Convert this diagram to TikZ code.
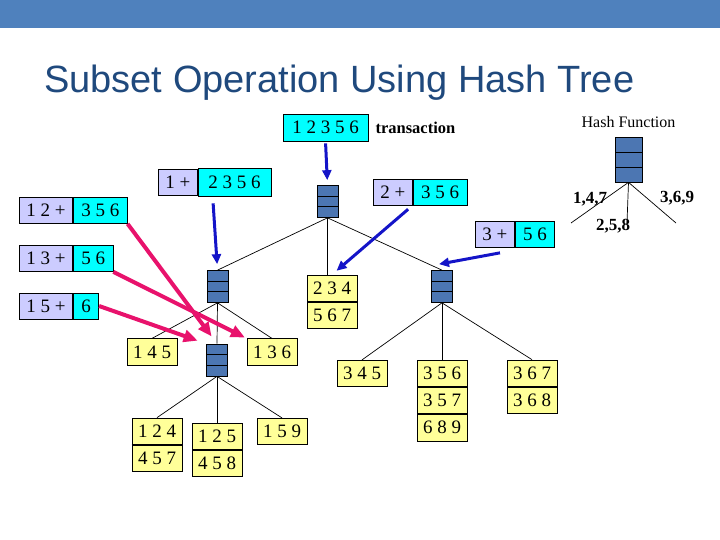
\documentclass[tikz,border=0pt]{standalone}
\usepackage{fontspec}
\setmainfont{Liberation Serif}
\newfontfamily\titlefont{Liberation Sans}
\usetikzlibrary{arrows.meta}
\usetikzlibrary{positioning}
\usetikzlibrary{calc}
\definecolor{banner}{RGB}{79,129,189}
\definecolor{titleblue}{RGB}{31,73,125}
\definecolor{hashblue}{RGB}{76,118,178}
\definecolor{lavender}{RGB}{204,204,255}
\definecolor{cyanbox}{RGB}{0,255,255}
\definecolor{leafyellow}{RGB}{255,255,153}
\definecolor{pinkarrow}{RGB}{232,18,108}
\definecolor{bluearrow}{RGB}{20,20,200}
\newcommand{\numfont}{\fontsize{19}{21}\selectfont}
\tikzstyle{headcell} = [rectangle, draw=black, line width=0.7pt, fill=lavender, minimum height=26pt, inner xsep=7pt, inner ysep=0pt, font=\numfont]
\tikzstyle{tailcell} = [rectangle, draw=black, line width=0.7pt, fill=cyanbox, minimum height=26pt, inner xsep=8pt, inner ysep=0pt, font=\numfont]
\tikzstyle{leaf} = [rectangle, draw=black, line width=0.7pt, fill=leafyellow, minimum width=50pt, minimum height=26.5pt, inner sep=0pt, font=\numfont]
\tikzstyle{hashbox} = [rectangle, draw=black, line width=0.7pt, fill=hashblue, minimum width=21pt, minimum height=32pt, inner sep=0pt, path picture={\draw[line width=0.7pt] ($(path picture bounding box.north west)!1/3!(path picture bounding box.south west)$) -- ($(path picture bounding box.north east)!1/3!(path picture bounding box.south east)$); \draw[line width=0.7pt] ($(path picture bounding box.north west)!2/3!(path picture bounding box.south west)$) -- ($(path picture bounding box.north east)!2/3!(path picture bounding box.south east)$);}]
\tikzstyle{bucket} = [inner sep=0pt, font=\bfseries\fontsize{17}{19}\selectfont]
\tikzstyle{branch} = [line width=0.7pt, draw=black]
\tikzstyle{scan} = [line width=3pt, draw=bluearrow, ->, >={Triangle[length=10pt,width=9pt]}]
\tikzstyle{hit} = [line width=4pt, draw=pinkarrow, ->, >={Triangle[length=14pt,width=12pt]}]

\begin{document}
\begin{tikzpicture}[x=1pt, y=-1pt]
\useasboundingbox (0,0) rectangle (720,540);
\fill[banner] (0,0) rectangle (720,28);
\node[anchor=base west, inner sep=0pt, text=titleblue, font=\titlefont\fontsize{38}{42}\selectfont] (title) at (44,93) {Subset Operation Using Hash Tree};

\node[tailcell, minimum width=85pt, minimum height=27pt] (trans) at (325.5,127.5) {1 2 3 5 6};
\node[right=7pt of trans, inner sep=0pt, font=\bfseries\fontsize{16.5}{18}\selectfont] (translabel) {transaction};

\node[hashbox, minimum width=27pt, minimum height=45pt] (hf) at (628.5,159.5) {};
\node[above=9pt of hf, inner sep=0pt, font=\fontsize{16}{18}\selectfont] (hflabel) {Hash Function};
\coordinate (hfl) at (571,223);
\coordinate (hfm) at (627,223);
\coordinate (hfr) at (676,223);
\draw[branch] (hf.south) -- (hfl);
\draw[branch] (hf.south) -- (hfm);
\draw[branch] (hf.south) -- (hfr);
\node[bucket] (b147) at (590,199) {1,4,7};
\node[bucket] (b258) at (613,226) {2,5,8};
\node[bucket] (b369) at (677,198) {3,6,9};

\node[hashbox] (root) at (327.5,201.5) {};
\node[hashbox] (lefthash) at (217.5,286.5) {};
\node[hashbox] (righthash) at (442,286.5) {};
\node[hashbox] (lowhash) at (217,360) {};

\node[leaf] (l234) at (332,288.25) {2 3 4};
\node[leaf, below=0pt of l234] (l567) {5 6 7};
\node[leaf] (l145) at (152,352) {1 4 5};
\node[leaf] (l136) at (272,352) {1 3 6};
\node[leaf] (l124) at (157,431.25) {1 2 4};
\node[leaf, below=0pt of l124] (l457) {4 5 7};
\draw[line width=1.6pt] (l124.south west) -- (l124.south east);
\node[leaf] (l125) at (217,436.25) {1 2 5};
\node[leaf, below=0pt of l125] (l458) {4 5 8};
\node[leaf] (l159) at (282,431.5) {1 5 9};
\node[leaf] (l345) at (362,373.5) {3 4 5};
\node[leaf] (l356) at (442,373.25) {3 5 6};
\node[leaf, below=0pt of l356] (l357) {3 5 7};
\node[leaf, below=0pt of l357] (l689) {6 8 9};
\node[leaf] (l367) at (532,373.25) {3 6 7};
\node[leaf, below=0pt of l367] (l368) {3 6 8};

\draw[branch] (root.south) -- (lefthash.north);
\draw[branch] (root.south) -- (root.south |- l234.north);
\draw[branch] (root.south) -- (righthash.north);
\draw[branch] (lefthash.south) -- (l145.north);
\draw[branch] (lefthash.south) -- (lowhash.north);
\draw[branch] (lefthash.south) -- (l136.north);
\draw[branch] (lowhash.south) -- (l124.north);
\draw[branch] (lowhash.south) -- (l125.north);
\draw[branch] (lowhash.south) -- (l159.north);
\draw[branch] (righthash.south) -- (l345.north);
\draw[branch] (righthash.south) -- (l356.north);
\draw[branch] (righthash.south) -- (l367.north);

\node[headcell, anchor=west] (p1) at (158,182) {1 +};
\node[tailcell, right=0pt of p1, minimum width=73pt, minimum height=28pt] (s1) {2 3 5 6};
\node[headcell, anchor=west] (p2) at (373,192) {2 +};
\node[tailcell, right=0pt of p2] (s2) {3 5 6};
\node[headcell, anchor=west] (p3) at (475,234.5) {3 +};
\node[tailcell, right=0pt of p3] (s3) {5 6};
\node[headcell, anchor=west] (p12) at (19,210.5) {1 2 +};
\node[tailcell, right=0pt of p12] (s12) {3 5 6};
\node[headcell, anchor=west] (p13) at (19,258.5) {1 3 +};
\node[tailcell, right=0pt of p13] (s13) {5 6};
\node[headcell, anchor=west] (p15) at (19,306) {1 5 +};
\node[tailcell, right=0pt of p15] (s15) {6};

\draw[scan, shorten <=2pt, shorten >=5pt] (trans.south) -- (root.north);
\draw[scan, shorten <=7pt, shorten >=6pt] ([xshift=15pt]s1.south west) -- (lefthash.north);
\draw[scan, shorten <=6pt, shorten >=6pt] (s2.south west) -- (l234.north);
\draw[scan] ([xshift=25pt,yshift=-5pt]p3.south west) -- ([xshift=-3pt,yshift=6pt]righthash.north);

\draw[hit, shorten >=9pt] (s12.south east) -- (lowhash.north);
\draw[hit, shorten >=2pt] (s13.south east) -- (l136.north west);
\draw[hit, shorten >=9pt] (s15.east) -- (lowhash.north west);

\end{tikzpicture}
\end{document}
